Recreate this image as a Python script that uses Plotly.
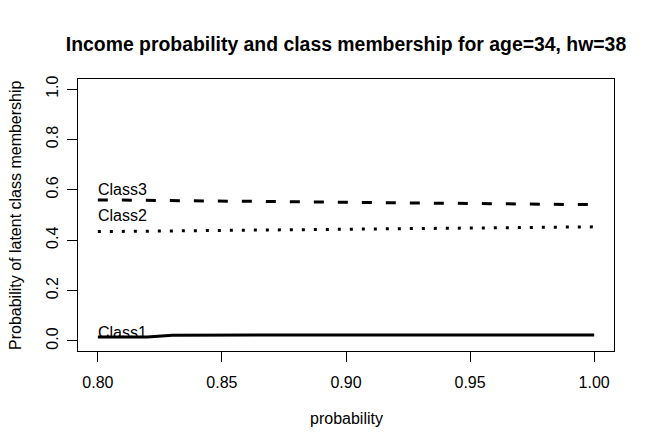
import plotly.graph_objects as go

# probability grid and class membership curves
prob = [0.80, 0.81, 0.82, 0.83, 0.84, 0.85, 0.86, 0.87, 0.88, 0.89, 0.90,
        0.91, 0.92, 0.93, 0.94, 0.95, 0.96, 0.97, 0.98, 0.99, 1.00]
class1 = [0.016, 0.016, 0.016, 0.023, 0.023, 0.023, 0.023, 0.023, 0.023, 0.023, 0.023,
          0.023, 0.023, 0.023, 0.023, 0.024, 0.024, 0.024, 0.024, 0.024, 0.024]
class2 = [0.434, 0.435, 0.436, 0.437, 0.438, 0.439, 0.440, 0.441, 0.442, 0.443, 0.444,
          0.444, 0.445, 0.446, 0.447, 0.448, 0.449, 0.450, 0.451, 0.452, 0.453]
class3 = [0.560, 0.559, 0.558, 0.557, 0.556, 0.556, 0.555, 0.554, 0.553, 0.552, 0.551,
          0.550, 0.549, 0.548, 0.547, 0.546, 0.545, 0.544, 0.543, 0.542, 0.541]
labels = ["Class1", "Class2", "Class3"]
label_y = [0.034, 0.498, 0.600]

x_ticks = [0.80, 0.85, 0.90, 0.95, 1.00]
y_ticks = [0.0, 0.2, 0.4, 0.6, 0.8, 1.0]

FONT = "Liberation Sans, Arial, sans-serif"

fig = go.Figure()
fig.add_trace(go.Scatter(x=prob, y=class1, mode="lines",
                         line=dict(color="black", width=3)))
fig.add_trace(go.Scatter(x=prob, y=class2, mode="lines",
                         line=dict(color="black", width=3, dash="3px,9px")))
fig.add_trace(go.Scatter(x=prob, y=class3, mode="lines",
                         line=dict(color="black", width=3, dash="10px,14px")))

for lab, ly in zip(labels, label_y):
    fig.add_annotation(x=prob[0], y=ly, text=lab, showarrow=False,
                       xanchor="left", yanchor="middle", xshift=-2,
                       font=dict(family=FONT, size=16, color="black"))

# axis titles
fig.add_annotation(text="probability", xref="paper", yref="paper",
                   x=0.5, y=-67 / 272, showarrow=False, yanchor="middle",
                   font=dict(family=FONT, size=16, color="black"))
fig.add_annotation(text="Probability of latent class membership", xref="paper", yref="paper",
                   x=-63 / 536, y=0.5, showarrow=False, textangle=-90, xanchor="center",
                   borderpad=0,
                   font=dict(family=FONT, size=16, color="black"))

# page body adds an 8px offset, so margins are shifted to compensate
fig.update_layout(
    width=654, height=448,
    margin=dict(l=70, r=48, t=71, b=105),
    paper_bgcolor="white", plot_bgcolor="white",
    showlegend=False,
    title=dict(text="<b>Income probability and class membership for age=34, hw=38</b>",
               x=0.5, xref="paper", y=1 - 36 / 448, yanchor="middle",
               font=dict(family=FONT, size=19.4, color="black")),
    font=dict(family=FONT, size=16, color="black"),
    xaxis=dict(range=[0.792, 1.008], tickvals=x_ticks, ticktext=["%.2f" % v for v in x_ticks],
               ticks="outside", ticklen=10, tickwidth=1, tickcolor="black",
               showline=True, linecolor="black", linewidth=1, mirror=True,
               showgrid=False, zeroline=False, ticklabelstandoff=7),
    yaxis=dict(range=[-0.04, 1.04], tickvals=y_ticks, ticktext=["%.1f" % v for v in y_ticks],
               ticks="outside", ticklen=10, tickwidth=1, tickcolor="black", tickangle=-90,
               showline=True, linecolor="black", linewidth=1, mirror=True,
               showgrid=False, zeroline=False, ticklabelstandoff=3),
)

fig.write_html("out.html")
